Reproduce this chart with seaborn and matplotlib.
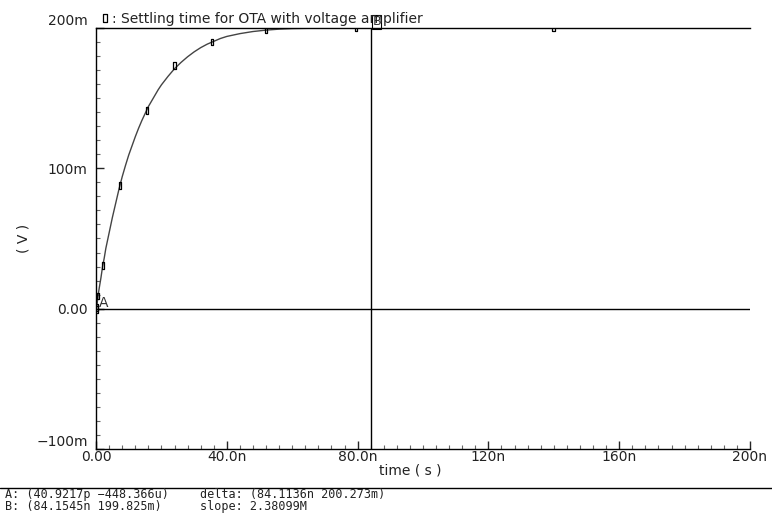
import numpy as np
import pandas as pd
import seaborn as sns
import matplotlib.pyplot as plt
from matplotlib.lines import Line2D
from matplotlib.ticker import MultipleLocator

# Settling curve (time in ns, voltage in mV)
t_ns = [0, 0.2, 0.6, 1, 1.5, 2, 2.5, 3, 4, 5, 6, 7, 8, 9, 10, 11, 12, 13, 14,
        15, 16, 17, 18, 19, 20, 22, 24, 26, 28, 30, 32, 34, 36, 38, 40, 44,
        48, 52, 56, 60, 65, 70, 80, 100, 140, 200]
v_mv = [-0.45, 1, 9, 15, 22, 30, 36, 43, 54, 65, 75, 85, 94, 102, 109.5, 116,
        122.5, 128.5, 134, 139, 144, 148, 152, 156, 159.5, 165.5, 171, 175.5,
        179.5, 183, 186, 188.5, 190.5, 192.5, 194, 196, 197.5, 198.5, 199.2,
        199.6, 199.8, 199.9, 200, 200, 200, 200]

# simulation points shown with markers
mark_t = [0.05, 0.2, 0.6, 2.1, 7.3, 15.6, 23.9, 35.5, 52, 79.5, 140]
mark_v = [-0.45, 1, 9, 31, 88, 141.5, 173, 190, 198.6, 200, 200]

# cursors
a_t, a_v = 0.0409217, -0.448366
b_t, b_v = 84.1545, 199.825

xticks = [0, 40, 80, 120, 160, 200]
xlabels = ["0.00", "40.0n", "80.0n", "120n", "160n", "200n"]
yticks = [-100, 0, 100, 200]
ylabels = ["\u2212100m", "0.00", "100m", "200m"]

curve = pd.DataFrame({"t": t_ns, "v": v_mv})
marks = pd.DataFrame({"t": mark_t, "v": mark_v})

sns.set_style("ticks")
plt.rcParams["font.family"] = ["DejaVu Sans"]

fig = plt.figure(figsize=(7.72, 5.14), dpi=100)
ax = fig.add_axes([0.1244, 0.1265, 0.8471, 0.819])

box = [(-1, -2.5), (1, -2.5), (1, 2.5), (-1, 2.5), (-1, -2.5)]
sns.lineplot(data=curve, x="t", y="v", ax=ax, color="#444444", lw=1.0)
sns.scatterplot(data=marks, x="t", y="v", ax=ax, marker=box, s=24,
                facecolor="none", edgecolor="black", linewidth=0.9, zorder=3)

ax.axhline(0, color="black", lw=1.0)
ax.axvline(b_t, color="black", lw=1.0)
ax.annotate("A", (a_t, a_v), xytext=(2, 2), textcoords="offset points",
            fontsize=10, color="#333333")
ax.annotate("B", (b_t, b_v), xytext=(1, 2), textcoords="offset points",
            fontsize=9, color="#333333",
            bbox=dict(boxstyle="square,pad=0.02", fc="none", ec="black", lw=0.8))

ax.set_xlim(0, 200)
ax.set_ylim(-100, 200)
ax.set_xticks(xticks, xlabels, fontsize=10, color="#222222")
ax.set_yticks(yticks, ylabels, fontsize=10, color="#222222")
ylab = ax.get_yticklabels()
ylab[0].set_verticalalignment("bottom")
ylab[-1].set_verticalalignment("bottom")
ax.xaxis.set_minor_locator(MultipleLocator(4))
ax.yaxis.set_minor_locator(MultipleLocator(10))
ax.tick_params(which="major", direction="in", length=6, width=1)
ax.tick_params(axis="x", which="major", pad=1)
ax.tick_params(axis="y", which="major", pad=6)
ax.tick_params(which="minor", direction="in", length=3, width=0.8, color="#666666")
ax.spines["right"].set_visible(False)
for s in ["left", "bottom", "top"]:
    ax.spines[s].set_linewidth(1.0)
    ax.spines[s].set_color("black")

ax.set_xlabel("time ( s )", fontsize=10, color="#222222")
ax.xaxis.set_label_coords(0.48, -0.035)
ax.set_ylabel("( V )", fontsize=10, color="#222222")
ax.yaxis.set_label_coords(-0.1, 0.5)

handle = Line2D([], [], marker=box, markersize=6, ls="none",
                mfc="none", mec="black", mew=0.9)
ax.legend([handle], [": Settling time for OTA with voltage amplifier"],
          loc="lower left", bbox_to_anchor=(0.008, 1.004), frameon=False,
          handlelength=0.6, handletextpad=0.2, borderpad=0, borderaxespad=0,
          fontsize=10, labelcolor="#222222")

fig.add_artist(Line2D([0, 1], [0.051, 0.051], color="black", lw=1.0))
fs = dict(fontsize=8.5, family="DejaVu Sans Mono", va="center", color="#222222")
fig.text(0.006, 0.038, f"A: ({a_t * 1000:.4f}p \u2212{abs(a_v) * 1000:.3f}u)", **fs)
fig.text(0.006, 0.015, f"B: ({b_t:.4f}n {b_v:.3f}m)", **fs)
fig.text(0.259, 0.038, "delta: (84.1136n 200.273m)", **fs)
fig.text(0.259, 0.015, "slope: 2.38099M", **fs)

fig.savefig("out.png", dpi=100)
